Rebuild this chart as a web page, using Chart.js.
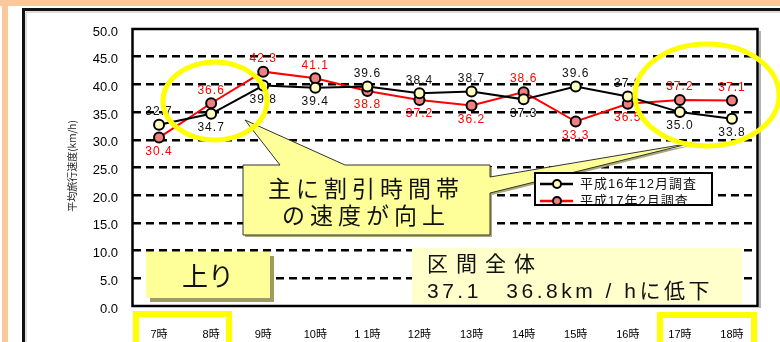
<!DOCTYPE html>
<html>
<head>
<meta charset="utf-8">
<script src="https://cdn.jsdelivr.net/npm/chart.js@4.4.1/dist/chart.umd.min.js"></script>
<style>
  html, body { margin: 0; padding: 0; background: #fff; }
  canvas { display: block; }
</style>
</head>
<body>
<canvas id="speedChart" width="780" height="342"></canvas>
<script>
// Hourly average travel speed, inbound direction (km/h)
const hours = ['7時', '8時', '9時', '10時', '1 1時', '12時', '13時', '14時', '15時', '16時', '17時', '18時'];
const surveyDec16 = [32.7, 34.7, 39.8, 39.4, 39.6, 38.4, 38.7, 37.3, 39.6, 37.8, 35.0, 33.8];
const surveyFeb17 = [30.4, 36.6, 42.3, 41.1, 38.8, 37.2, 36.2, 38.6, 33.3, 36.5, 37.2, 37.1];
const seriesNames = ['平成16年12月調査', '平成17年2月調査'];
const speedTicks = [0, 5, 10, 15, 20, 25, 30, 35, 40, 45, 50];
const axisTitle = '平均旅行速度(km/h)';

const JP = "'Noto Sans CJK JP', sans-serif";
const NUM = "'Liberation Sans', 'Noto Sans CJK JP', sans-serif";

// which side of each marker its value label sits on ('a' above, 'b' below)
const labelSides = [
  ['a', 'b', 'b', 'b', 'a', 'a', 'a', 'b', 'a', 'a', 'b', 'b'],
  ['b', 'a', 'a', 'a', 'b', 'b', 'b', 'a', 'b', 'b', 'a', 'a']
];
const labelColors = ['#111', '#ff0000'];

// page background, slide border and plot frame
const framePlugin = {
  id: 'frame',
  beforeDraw(chart) {
    const { ctx, width, height } = chart;
    ctx.save();
    ctx.fillStyle = '#fff';
    ctx.fillRect(0, 0, width, height);
    ctx.fillStyle = '#fac89a';
    ctx.fillRect(0, 0, width, 6);
    ctx.fillRect(2, 0, 6, height);
    ctx.strokeStyle = '#111';
    ctx.lineWidth = 3;
    ctx.beginPath();
    ctx.moveTo(23.5, height);
    ctx.lineTo(23.5, 9.5);
    ctx.lineTo(width, 9.5);
    ctx.stroke();
    ctx.strokeStyle = '#bbb';
    ctx.lineWidth = 1;
    ctx.beginPath();
    ctx.moveTo(26, height);
    ctx.lineTo(26, 12);
    ctx.lineTo(width, 12);
    ctx.stroke();
    ctx.restore();
  },
  beforeDatasetsDraw(chart) {
    const { ctx, chartArea: a } = chart;
    ctx.save();
    // right-edge shadow
    ctx.strokeStyle = '#999';
    ctx.lineWidth = 1.5;
    ctx.beginPath();
    ctx.moveTo(a.right + 2, a.top + 2);
    ctx.lineTo(a.right + 2, a.bottom + 2);
    ctx.stroke();
    ctx.strokeStyle = '#000';
    ctx.lineWidth = 2.5;
    ctx.strokeRect(a.left - 0.5, a.top, a.right - a.left, a.bottom - a.top);
    ctx.restore();
  }
};

// value labels beside each marker
const valueLabels = {
  id: 'valueLabels',
  beforeDatasetsDraw(chart) {
    const { ctx } = chart;
    ctx.save();
    ctx.font = '12px ' + NUM;
    ctx.letterSpacing = '1px';
    ctx.textAlign = 'center';
    ctx.textBaseline = 'middle';
    chart.data.datasets.forEach((ds, di) => {
      const meta = chart.getDatasetMeta(di);
      meta.data.forEach((pt, i) => {
        const dy = labelSides[di][i] === 'a' ? -13 : 14;
        ctx.fillStyle = labelColors[di];
        ctx.fillText(ds.data[i].toFixed(1), pt.x, pt.y + dy);
      });
    });
    ctx.restore();
  }
};

// call-outs, highlight rings, legend and text boxes
const overlays = {
  id: 'overlays',
  afterDraw(chart) {
    const { ctx } = chart;
    ctx.save();

    // call-out balloon with two pointers
    const balloon = () => {
      ctx.beginPath();
      ctx.moveTo(243, 165);
      ctx.lineTo(280, 165);
      ctx.lineTo(245, 120);
      ctx.lineTo(345, 165);
      ctx.lineTo(490, 165);
      ctx.lineTo(490, 177);
      ctx.lineTo(692, 143);
      ctx.lineTo(490, 193);
      ctx.lineTo(490, 235);
      ctx.lineTo(243, 235);
      ctx.closePath();
    };
    ctx.save();
    ctx.translate(2, 2);
    balloon();
    ctx.fillStyle = '#a8a878';
    ctx.fill();
    ctx.restore();
    balloon();
    ctx.fillStyle = '#ffff99';
    ctx.fill();
    ctx.strokeStyle = '#333';
    ctx.lineWidth = 1;
    ctx.stroke();
    ctx.fillStyle = '#111';
    ctx.font = '23px ' + JP;
    ctx.letterSpacing = '5px';
    ctx.textAlign = 'center';
    ctx.textBaseline = 'middle';
    ctx.fillText('主に割引時間帯', 366, 188);
    ctx.fillText('の速度が向上', 366, 215);
    ctx.letterSpacing = '0px';

    // highlight rings
    ctx.strokeStyle = '#ffff00';
    ctx.lineWidth = 5;
    ctx.beginPath();
    ctx.ellipse(215, 101, 52, 39, 0, 0, Math.PI * 2);
    ctx.stroke();
    ctx.beginPath();
    ctx.ellipse(707, 95, 72, 51, 0, 0, Math.PI * 2);
    ctx.stroke();

    // legend
    const lx = 535, ly = 173, lw = 177, lh = 32;
    ctx.fillStyle = '#fff';
    ctx.fillRect(lx, ly, lw, lh);
    ctx.save();
    ctx.beginPath();
    ctx.rect(lx, ly, lw, lh);
    ctx.clip();
    const ds = chart.data.datasets;
    [184, 201].forEach((y, i) => {
      ctx.strokeStyle = ds[i].borderColor;
      ctx.lineWidth = 2.5;
      ctx.beginPath();
      ctx.moveTo(lx + 5, y);
      ctx.lineTo(lx + 38, y);
      ctx.stroke();
      ctx.beginPath();
      ctx.arc(lx + 22, y, 4, 0, Math.PI * 2);
      ctx.fillStyle = ds[i].pointBackgroundColor;
      ctx.fill();
      ctx.strokeStyle = '#000';
      ctx.lineWidth = 2;
      ctx.stroke();
      ctx.fillStyle = '#111';
      ctx.font = '13px ' + NUM;
      ctx.letterSpacing = '1px';
      ctx.textAlign = 'left';
      ctx.textBaseline = 'middle';
      ctx.fillText(ds[i].label, lx + 45, y);
      ctx.letterSpacing = '0px';
    });
    ctx.restore();
    ctx.strokeStyle = '#000';
    ctx.lineWidth = 2;
    ctx.strokeRect(lx, ly, lw, lh);

    // direction tag
    ctx.fillStyle = '#a09c5c';
    ctx.fillRect(150, 256, 124, 46);
    ctx.fillStyle = '#ffff99';
    ctx.fillRect(146, 252, 124, 46);
    ctx.fillStyle = '#111';
    ctx.font = '26px ' + JP;
    ctx.textAlign = 'center';
    ctx.textBaseline = 'middle';
    ctx.fillText('上り', 208, 276);

    // whole-section summary
    ctx.fillStyle = '#ffffcc';
    ctx.fillRect(412, 248, 330, 56);
    ctx.fillStyle = '#111';
    ctx.textAlign = 'left';
    ctx.font = '21px ' + JP;
    ctx.letterSpacing = '8px';
    ctx.fillText('区間全体', 427, 263);
    ctx.font = '21px ' + NUM;
    ctx.letterSpacing = '3.5px';
    ctx.fillText('37.1　36.8km / hに低下', 427, 292);
    ctx.letterSpacing = '0px';

    // rotated axis title
    ctx.save();
    ctx.translate(72, 166);
    ctx.rotate(-Math.PI / 2);
    ctx.font = '10px ' + JP;
    ctx.fillStyle = '#222';
    ctx.textAlign = 'center';
    ctx.textBaseline = 'middle';
    ctx.fillText(axisTitle, 0, 0);
    ctx.restore();

    // highlighted hour labels
    ctx.strokeStyle = '#ffff00';
    ctx.lineWidth = 6;
    ctx.strokeRect(136, 314, 93, 34);
    ctx.strokeRect(660, 315, 94, 34);

    ctx.restore();
  }
};

new Chart(document.getElementById('speedChart'), {
  type: 'line',
  data: {
    labels: hours,
    datasets: [
      {
        label: seriesNames[0],
        data: surveyDec16,
        borderColor: '#000',
        borderWidth: 2,
        pointRadius: 5,
        pointBorderWidth: 2,
        pointBorderColor: '#000',
        pointBackgroundColor: '#ffffc0',
        tension: 0
      },
      {
        label: seriesNames[1],
        data: surveyFeb17,
        borderColor: '#ff0000',
        borderWidth: 2,
        pointRadius: 5,
        pointBorderWidth: 2,
        pointBorderColor: '#000',
        pointBackgroundColor: '#f08080',
        tension: 0
      }
    ]
  },
  options: {
    responsive: false,
    animation: false,
    devicePixelRatio: 1,
    layout: { padding: { left: 0, top: 29, right: 22, bottom: 0 } },
    plugins: {
      legend: { display: false },
      tooltip: { enabled: false }
    },
    events: [],
    scales: {
      x: {
        type: 'category',
        offset: true,
        grid: { display: false },
        border: { display: false },
        ticks: {
          color: '#000',
          font: { size: 11, family: NUM },
          padding: 14,
          maxRotation: 0,
          autoSkip: false
        },
        afterFit(scale) { scale.height = 36; }
      },
      y: {
        min: 0,
        max: 50,
        afterBuildTicks(scale) {
          scale.ticks = speedTicks.map(v => ({ value: v }));
        },
        ticks: {
          color: '#000',
          font: { size: 13, family: NUM },
          padding: 15,
          labelOffset: 3,
          callback: v => Number(v).toFixed(1)
        },
        grid: {
          drawTicks: false,
          lineWidth: 2.5,
          color: ctx => (ctx.tick && (ctx.tick.value === 0 || ctx.tick.value === 50)) ? 'rgba(0,0,0,0)' : '#000'
        },
        border: { display: false, dash: [8, 5] },
        afterFit(scale) { scale.width = 133; }
      }
    }
  },
  plugins: [framePlugin, valueLabels, overlays]
});
</script>
</body>
</html>
